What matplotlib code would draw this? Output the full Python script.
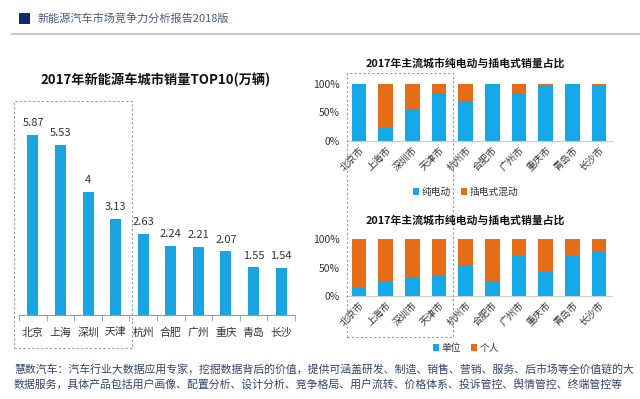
import matplotlib
matplotlib.use("Agg")
import matplotlib.pyplot as plt
from matplotlib.patches import Rectangle

plt.rcParams['font.family'] = ['Noto Sans CJK SC', 'DejaVu Sans']

header_title = "新能源汽车市场竞争力分析报告2018版"
left_title = "2017年新能源车城市销量TOP10(万辆)"
right_title = "2017年主流城市纯电动与插电式销量占比"

cities = ["北京", "上海", "深圳", "天津", "杭州", "合肥", "广州", "重庆", "青岛", "长沙"]
sales = [5.87, 5.53, 4, 3.13, 2.63, 2.24, 2.21, 2.07, 1.55, 1.54]
value_labels = ["5.87", "5.53", "4", "3.13", "2.63", "2.24", "2.21", "2.07", "1.55", "1.54"]

cities_full = [c + "市" for c in cities]
bev_share = [1.00, 0.24, 0.54, 0.85, 0.70, 1.00, 0.82, 0.98, 0.995, 0.965]
org_share = [0.14, 0.265, 0.31, 0.37, 0.54, 0.265, 0.705, 0.42, 0.705, 0.77]

top_legend = ["纯电动", "插电式混动"]
bottom_legend = ["单位", "个人"]
y_ticks = [0, 0.5, 1.0]
y_ticklabels = ["0%", "50%", "100%"]

footer = ("慧数汽车：汽车行业大数据应用专家，挖掘数据背后的价值，提供可涵盖研发、制造、销售、营销、服务、后市场等全价值链的大\n"
          "数据服务，具体产品包括用户画像、配置分析、设计分析、竞争格局、用户流转、价格体系、投诉管控、舆情管控、终端管控等")

BLUE = "#14a9e6"
ORANGE = "#e66c17"
TEXT = "#333333"

W, H = 640, 399
fig = plt.figure(figsize=(6.4, 3.99), dpi=100)
fig.patch.set_facecolor("white")

def ax_px(x0, y_top, w, h):
    return fig.add_axes([x0 / W, (H - y_top - h) / H, w / W, h / H])

def fx(x):
    return x / W

def fy(y):
    return (H - y) / H

# header
fig.patches.append(Rectangle((fx(19), fy(24)), 11 / W, 11 / H, transform=fig.transFigure,
                             facecolor="#0e2a68", edgecolor="none"))
fig.text(fx(38), fy(18), header_title, fontsize=8, color="#4a5a7a", va="center", ha="left")
fig.add_artist(plt.Line2D([fx(12), fx(640)], [fy(34), fy(34)], transform=fig.transFigure,
                          color="#b8bec8", lw=1.2))

# left chart
axL = ax_px(19.2, 100, 275.6, 215)
x = list(range(len(cities)))
axL.bar(x, sales, width=0.4, color="#1aa4e2")
axL.set_xlim(-0.5, 9.5)
axL.set_ylim(0, 7.0)
for i, (v, lab) in enumerate(zip(sales, value_labels)):
    axL.text(i, v + 0.22, lab, ha="center", va="bottom", fontsize=8, color=TEXT)
axL.set_xticks(x)
axL.set_xticklabels(cities, fontsize=7.8, color=TEXT)
axL.set_xticks([i - 0.5 for i in range(11)], minor=True)
axL.tick_params(axis="x", which="major", length=0, pad=9)
axL.tick_params(axis="x", which="minor", length=4, color="#999999", direction="out")
axL.set_yticks([])
for s in ["top", "right", "left"]:
    axL.spines[s].set_visible(False)
axL.spines["bottom"].set_color("#999999")
axL.spines["bottom"].set_linewidth(0.8)
fig.text(fx(156), fy(80), left_title, fontsize=9.5, fontweight="bold", ha="center", va="center",
         color="#111111")

# dashed boxes
fig.patches.append(Rectangle((fx(14), fy(348)), 118 / W, 247 / H, transform=fig.transFigure,
                             facecolor="none", edgecolor="#999999", lw=0.8, linestyle=(0, (2, 2))))
fig.patches.append(Rectangle((fx(347), fy(337)), 106 / W, 264 / H, transform=fig.transFigure,
                             facecolor="none", edgecolor="#999999", lw=0.8, linestyle=(0, (2, 2))))

def stacked(ax, share, legend_labels, legend_y):
    other = [1 - s for s in share]
    b1 = ax.bar(x, share, width=0.56, color=BLUE, label=legend_labels[0])
    b2 = ax.bar(x, other, bottom=share, width=0.56, color=ORANGE, label=legend_labels[1])
    ax.set_xlim(-0.5, 9.5)
    ax.set_ylim(0, 1.0)
    ax.set_yticks(y_ticks)
    ax.set_yticklabels(y_ticklabels, fontsize=7.5, color=TEXT)
    ax.tick_params(axis="y", length=0, pad=4)
    ax.set_xticks(x)
    ax.set_xticklabels(cities_full, rotation=45, ha="right", rotation_mode="anchor",
                       fontsize=7, color=TEXT)
    ax.tick_params(axis="x", length=0, pad=3)
    for s in ["top", "right", "left"]:
        ax.spines[s].set_visible(False)
    ax.spines["bottom"].set_color("#cccccc")
    ax.spines["bottom"].set_linewidth(0.8)
    fig.legend(handles=[b1, b2], loc="center", bbox_to_anchor=(fx(466), fy(legend_y)),
               ncol=2, frameon=False, fontsize=7, handlelength=0.6, handleheight=0.6,
               handletextpad=0.3, columnspacing=1.0, labelcolor=TEXT)

axT = ax_px(345.7, 84, 266.6, 56.7)
stacked(axT, bev_share, top_legend, 192)
fig.text(fx(465), fy(63), right_title, fontsize=7.8, fontweight="bold", ha="center", va="center",
         color="#111111")

axB = ax_px(345.7, 239.3, 266.6, 56.7)
stacked(axB, org_share, bottom_legend, 348)
fig.text(fx(465), fy(220), right_title, fontsize=7.8, fontweight="bold", ha="center", va="center",
         color="#111111")

# footer
fig.text(fx(14), fy(377), footer, fontsize=7.85, color="#34446a", ha="left", va="center",
         linespacing=1.5)

fig.savefig("out.png", dpi=100, facecolor="white")
